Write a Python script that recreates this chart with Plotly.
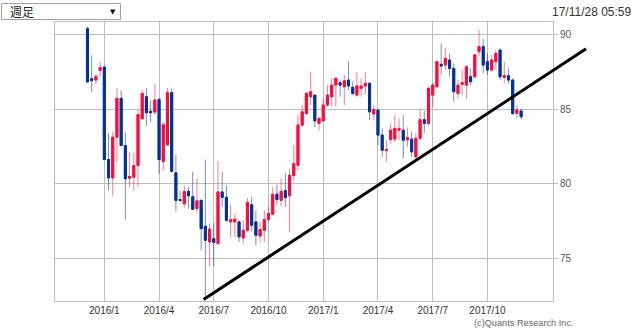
import plotly.graph_objects as go
import pandas as pd

# ---------------- data (weekly candles, week of 2015-12-07 .. 2017-11-27) ----------------
week_start = "2015-12-07"

opens = [
    90.40, 87.05, 86.96, 87.60, 87.83, 81.63, 80.40, 83.13, 85.73, 82.57,
    80.38, 80.45, 81.23, 84.36, 85.84, 84.86, 84.81, 85.66, 81.50, 82.62,
    86.11, 80.74, 78.95, 78.66, 79.50, 79.13, 78.35, 78.90, 77.16, 76.11,
    76.33, 76.00, 79.46, 79.10, 77.45, 77.45, 77.45, 76.38, 76.89, 78.60,
    77.45, 76.51, 76.89, 77.61, 77.97, 79.31, 78.90, 79.55, 79.20, 80.56,
    81.25, 83.94, 84.72, 85.84, 85.95, 84.05, 84.23, 85.28, 85.84, 86.62,
    86.78, 86.51, 86.96, 86.47, 85.95, 86.40, 86.56, 86.74, 84.68, 84.94,
    83.27, 82.24, 82.98, 83.00, 83.60, 83.60, 82.95, 83.00, 81.81, 83.05,
    84.30, 84.05, 85.95, 86.51, 88.01, 87.97, 88.30, 87.74, 86.06, 86.67,
    86.62, 87.18, 87.18, 88.86, 89.20, 88.19, 87.63, 88.19, 88.97, 87.14,
    87.25, 86.96, 84.72, 84.88,
]
highs = [
    90.54, 88.62, 87.38, 88.17, 87.94, 83.40, 83.50, 86.42, 86.27, 83.50,
    82.13, 82.08, 84.97, 86.27, 86.42, 85.60, 86.69, 85.75, 84.14, 86.42,
    86.38, 81.95, 79.55, 79.89, 79.80, 80.81, 80.36, 78.90, 81.63, 77.34,
    77.40, 81.50, 80.81, 79.90, 78.60, 78.00, 77.56, 77.56, 79.05, 79.15,
    78.23, 77.45, 78.23, 78.46, 79.80, 79.95, 80.40, 80.75, 81.00, 82.60,
    84.61, 85.28, 86.17, 87.52, 85.95, 84.50, 85.73, 86.62, 87.07, 87.18,
    87.00, 87.30, 88.20, 86.85, 87.52, 87.07, 87.52, 86.80, 85.28, 84.99,
    83.72, 82.93, 84.05, 84.60, 84.38, 84.61, 83.80, 83.50, 83.40, 85.00,
    84.90, 86.50, 86.74, 88.19, 89.42, 89.10, 88.75, 88.08, 86.96, 87.63,
    87.97, 87.74, 88.75, 90.32, 89.71, 88.75, 88.64, 88.97, 89.08, 88.19,
    87.74, 87.07, 85.28, 85.06,
]
lows = [
    86.80, 86.15, 86.70, 87.16, 81.60, 79.55, 79.20, 81.45, 82.53, 77.60,
    79.78, 79.55, 79.78, 84.36, 83.87, 84.14, 84.63, 80.67, 80.90, 82.57,
    80.74, 78.15, 78.77, 78.44, 78.35, 78.24, 78.06, 75.55, 72.30, 74.48,
    74.50, 75.89, 78.46, 77.45, 76.45, 76.45, 76.10, 76.00, 76.78, 76.80,
    75.89, 76.11, 76.11, 77.40, 77.90, 78.60, 78.50, 78.46, 76.78, 80.20,
    80.90, 83.83, 84.61, 85.28, 83.83, 83.60, 84.16, 85.17, 85.17, 85.17,
    85.84, 85.28, 86.29, 85.95, 85.84, 85.84, 86.00, 84.27, 84.27, 82.60,
    81.81, 81.48, 82.70, 82.80, 82.93, 81.70, 82.50, 81.80, 81.70, 82.90,
    83.40, 83.94, 85.17, 86.40, 87.30, 87.63, 87.18, 85.50, 85.73, 85.95,
    85.73, 86.62, 87.07, 88.53, 87.41, 87.30, 87.52, 87.63, 86.96, 86.74,
    86.74, 84.61, 84.38, 84.34,
]
closes = [
    86.83, 86.92, 87.20, 87.80, 81.63, 80.40, 83.13, 85.73, 82.57, 80.34,
    80.50, 81.23, 84.65, 86.06, 84.77, 84.77, 85.62, 81.63, 83.96, 86.11,
    80.85, 78.89, 78.89, 79.49, 79.20, 78.30, 78.86, 77.00, 76.22, 76.96,
    76.07, 79.46, 79.10, 77.56, 77.60, 77.63, 76.45, 76.89, 78.75, 77.23,
    76.56, 76.94, 77.60, 78.01, 79.30, 78.95, 79.50, 79.08, 80.58, 81.35,
    83.94, 84.83, 86.06, 86.17, 84.23, 84.39, 85.28, 85.95, 86.62, 87.07,
    86.62, 86.91, 86.56, 86.06, 86.56, 86.56, 86.74, 84.83, 84.99, 83.27,
    82.26, 82.31, 83.60, 83.72, 83.72, 82.93, 83.10, 82.15, 83.05, 84.30,
    84.05, 86.40, 86.62, 88.19, 87.90, 88.41, 87.74, 86.18, 86.62, 86.78,
    87.85, 86.85, 88.64, 89.20, 87.97, 87.63, 88.30, 88.75, 87.18, 87.25,
    86.96, 84.72, 84.95, 84.50,
]

tick_dates = ["2016-01-04", "2016-04-04", "2016-07-04", "2016-10-03",
              "2017-01-02", "2017-04-03", "2017-07-03", "2017-10-02"]
tick_labels = ["2016/1", "2016/4", "2016/7", "2016/10",
               "2017/1", "2017/4", "2017/7", "2017/10"]
y_ticks = [75, 80, 85, 90]

trend_dates = ["2016-06-17", "2018-03-15"]
trend_prices = [72.25, 89.05]

x_range = ["2015-10-14", "2018-01-19"]
y_range = [72.15, 90.85]

# ---------------- figure ----------------
dates = pd.date_range(week_start, periods=len(opens), freq="7D")
body_hi = [max(o, c) for o, c in zip(opens, closes)]
body_lo = [min(o, c) for o, c in zip(opens, closes)]

RED = "#ff0a3c"
BLUE = "#003399"
RED_W = "rgba(255,10,60,0.55)"
BLUE_W = "rgba(0,51,153,0.55)"

fig = go.Figure()
# wicks (lighter)
fig.add_trace(go.Candlestick(
    x=dates, open=opens, high=highs, low=lows, close=closes,
    increasing=dict(line=dict(color=RED_W, width=1), fillcolor=RED_W),
    decreasing=dict(line=dict(color=BLUE_W, width=1), fillcolor=BLUE_W),
    whiskerwidth=0, showlegend=False, hoverinfo="skip",
))
# bodies (solid)
fig.add_trace(go.Candlestick(
    x=dates, open=opens, high=body_hi, low=body_lo, close=closes,
    increasing=dict(line=dict(color=RED, width=1), fillcolor=RED),
    decreasing=dict(line=dict(color=BLUE, width=1), fillcolor=BLUE),
    whiskerwidth=0, showlegend=False,
))

# trendline in paper coords (drawn unclipped, like the reference)
x0 = pd.Timestamp(x_range[0]).value
x1 = pd.Timestamp(x_range[1]).value
def xp(d):
    return (pd.Timestamp(d).value - x0) / (x1 - x0)
def yp(v):
    return (v - y_range[0]) / (y_range[1] - y_range[0])

fig.add_shape(type="line", xref="paper", yref="paper",
              x0=xp(trend_dates[0]), y0=yp(trend_prices[0]),
              x1=xp(trend_dates[1]), y1=yp(trend_prices[1]),
              line=dict(color="black", width=3), layer="above")

W, H = 640, 331
ML, MR, MT, MB = 55, 87, 22, 30
PW, PH = W - ML - MR, H - MT - MB
def px(x):
    return (x - ML) / PW
def py(y):
    return 1 - (y - MT) / PH

# dropdown box
fig.add_shape(type="rect", xref="paper", yref="paper",
              x0=px(1.5), x1=px(120.5), y0=py(19.5), y1=py(3.5),
              line=dict(color="#a0a0a0", width=1), fillcolor="white")
fig.add_annotation(xref="paper", yref="paper", x=px(8), y=py(11.5),
                   text="週足", showarrow=False, xanchor="left", yanchor="middle",
                   font=dict(family="Noto Sans CJK JP", size=12, color="#222"))
fig.add_annotation(xref="paper", yref="paper", x=px(113), y=py(12), text="▼",
                   showarrow=False, xanchor="center", yanchor="middle",
                   font=dict(family="DejaVu Sans", size=7, color="#111"))
fig.add_annotation(xref="paper", yref="paper", x=px(634), y=py(12),
                   text="17/11/28 05:59", showarrow=False, xanchor="right",
                   yanchor="middle",
                   font=dict(family="Liberation Sans", size=12, color="#333"))
fig.add_annotation(xref="paper", yref="paper", x=px(472), y=py(322.5),
                   text="(c)Quants Research Inc.", showarrow=False,
                   xanchor="left", yanchor="middle",
                   font=dict(family="Liberation Sans", size=9.2, color="#666"))

GRID = "#bdbdbd"
fig.update_layout(
    width=W, height=H,
    margin=dict(l=ML, r=MR, t=MT, b=MB, pad=0),
    paper_bgcolor="white", plot_bgcolor="white",
    showlegend=False,
    xaxis=dict(
        type="date", range=x_range, rangeslider=dict(visible=False),
        tickvals=tick_dates, ticktext=tick_labels,
        showgrid=True, gridcolor=GRID, gridwidth=1,
        showline=True, linecolor=GRID, linewidth=1, mirror=True,
        ticks="", ticklen=0,
        tickfont=dict(family="Liberation Sans", size=10, color="#333"),
        zeroline=False,
    ),
    yaxis=dict(
        side="right", range=y_range, tickvals=y_ticks,
        showgrid=True, gridcolor=GRID, gridwidth=1,
        showline=True, linecolor=GRID, linewidth=1, mirror=True,
        ticks="outside", ticklen=4, tickcolor=GRID,
        tickfont=dict(family="Liberation Sans", size=10, color="#555"),
        zeroline=False,
    ),
)

fig.write_html("out.html")
